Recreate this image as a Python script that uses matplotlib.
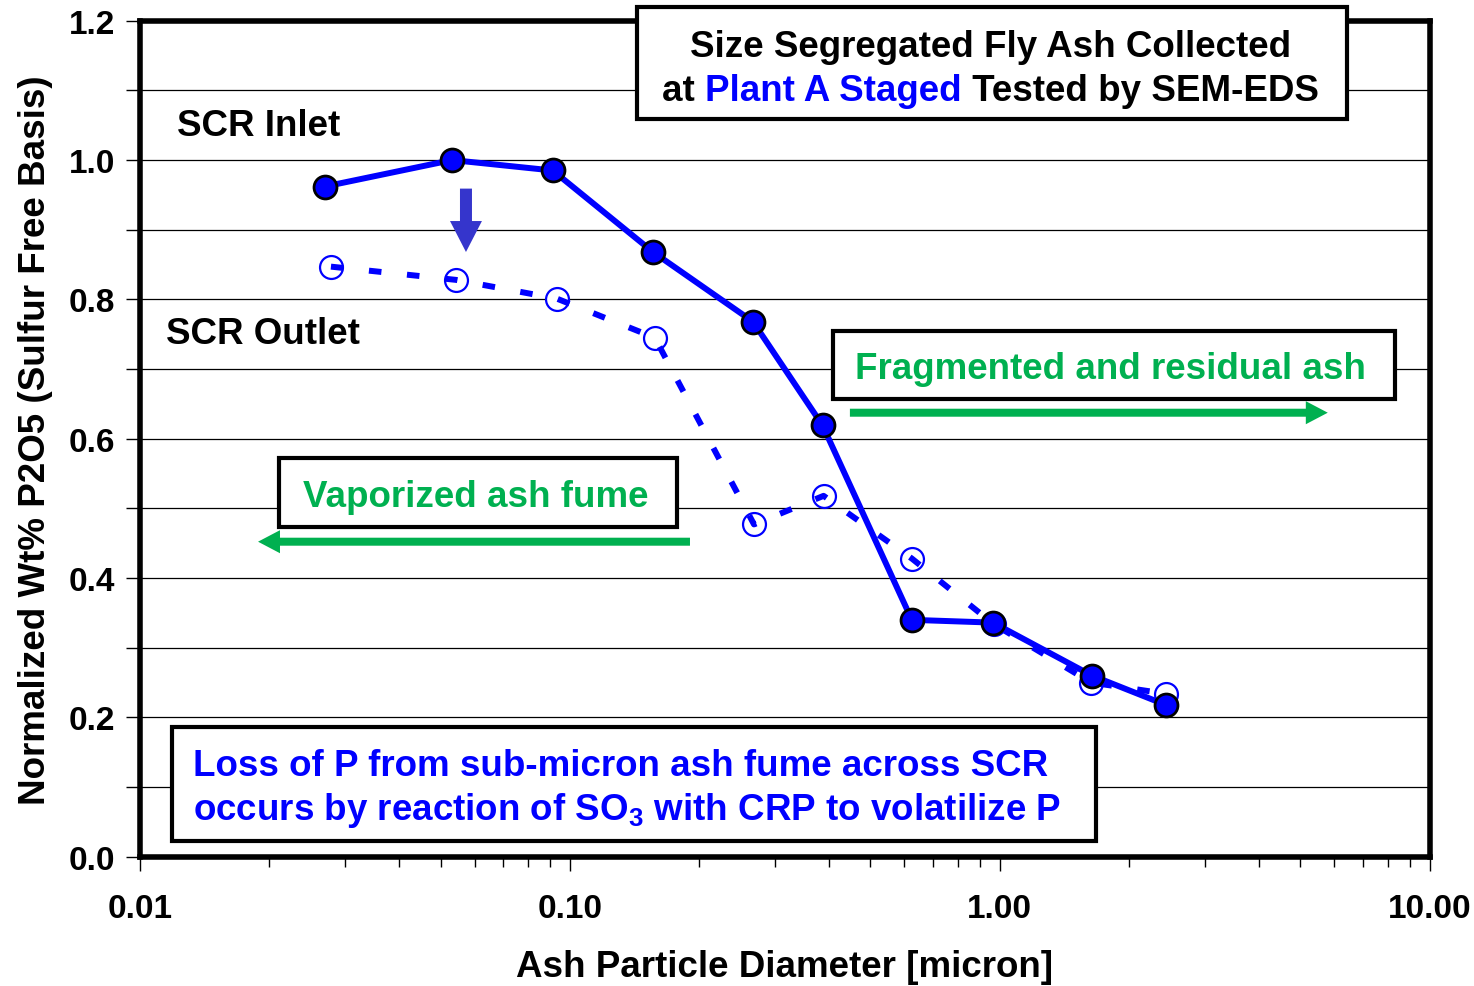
import numpy as np
import matplotlib
matplotlib.use("Agg")
import matplotlib.pyplot as plt
from matplotlib.patches import Rectangle
from matplotlib.ticker import FixedLocator, NullFormatter, LogLocator
from matplotlib.offsetbox import TextArea, HPacker, AnnotationBbox

plt.rcParams['font.family'] = ['Liberation Sans', 'DejaVu Sans']
plt.rcParams['font.weight'] = 'bold'
plt.rcParams['mathtext.fontset'] = 'custom'
plt.rcParams['mathtext.bf'] = 'Liberation Sans:bold'
plt.rcParams['mathtext.rm'] = 'Liberation Sans:bold'

# data
inlet_d = [0.0269, 0.0532, 0.0912, 0.156, 0.2665, 0.387, 0.624, 0.964, 1.637, 2.43]
inlet_p = [0.962, 1.000, 0.985, 0.868, 0.768, 0.619, 0.340, 0.336, 0.260, 0.218]
outlet_d = [0.0278, 0.0543, 0.0933, 0.1575, 0.268, 0.389, 0.624, 0.967, 1.63, 2.43]
outlet_p = [0.847, 0.828, 0.801, 0.745, 0.477, 0.518, 0.428, 0.334, 0.250, 0.234]
x_ticks = [0.01, 0.1, 1.0, 10.0]
x_tick_labels = ['0.01', '0.10', '1.00', '10.00']
y_ticks = [0.0, 0.2, 0.4, 0.6, 0.8, 1.0, 1.2]

blue = '#0000FF'
green = '#00B050'
fs = 26.5
dy = -0.005  # small downward nudge for centred texts

fig = plt.figure(figsize=(14.74, 9.87), dpi=100)
ax = fig.add_axes([0.095, 0.131, 0.875, 0.847])
ax.set_xscale('log')
ax.set_xlim(0.01, 10)
ax.set_ylim(0, 1.2)

# grid every 0.1
for g in np.arange(0.1, 1.2, 0.1):
    ax.axhline(g, color='black', lw=0.9, zorder=1)

# outlet: open circles, dashed line drawn over them
ax.plot(outlet_d, outlet_p, ls='none', marker='o', ms=16.5, mfc='white', mec=blue, mew=1.6, zorder=3)
ax.plot(outlet_d, outlet_p, color=blue, lw=4.3, ls=(0, (2.1, 4.3)), zorder=4)
# inlet: filled circles
ax.plot(inlet_d, inlet_p, color=blue, lw=4.3, marker='o', ms=16.5, mfc=blue, mec='black', mew=2, zorder=5)

# axes styling
for s in ax.spines.values():
    s.set_linewidth(4)
ax.set_yticks(y_ticks)
ax.set_yticklabels(['%.1f' % v for v in y_ticks])
ax.yaxis.set_minor_locator(FixedLocator(np.arange(0.1, 1.2, 0.2)))
ax.set_xticks(x_ticks)
ax.set_xticklabels(x_tick_labels)
ax.xaxis.set_minor_locator(LogLocator(base=10, subs=np.arange(2, 10)))
ax.xaxis.set_minor_formatter(NullFormatter())
ax.tick_params(axis='both', which='major', direction='out', length=10, width=1, labelsize=24, pad=8)
ax.tick_params(axis='both', which='minor', direction='out', length=7, width=1)
ax.tick_params(axis='x', which='major', pad=16)
ax.tick_params(axis='y', which='minor', length=10)

ax.set_xlabel('Ash Particle Diameter [micron]', fontsize=fs, fontweight='bold', labelpad=18)
ax.set_ylabel('Normalized Wt% P2O5 (Sulfur Free Basis)', fontsize=fs, fontweight='bold', labelpad=11)

# series labels
ax.text(0.0287, 0.8792 + dy, 'SCR Inlet', transform=ax.transAxes, fontsize=fs, ha='left', va='center', zorder=6)
ax.text(0.0202, 0.6304 + dy, 'SCR Outlet', transform=ax.transAxes, fontsize=fs, ha='left', va='center', zorder=6)

# boxes (axes fraction)
def frame(x0, y0, x1, y1):
    ax.add_patch(Rectangle((x0, y0), x1 - x0, y1 - y0, transform=ax.transAxes, fc='white',
                           ec='black', lw=3, clip_on=False, zorder=8))

frame(0.3853, 0.8828, 0.9357, 1.0167)
frame(0.5372, 0.5478, 0.9729, 0.6292)
frame(0.1078, 0.3947, 0.4163, 0.4773)
frame(0.0248, 0.0191, 0.7411, 0.1555)

# title text with blue words
ax.text(0.6593, 0.9737 + dy, 'Size Segregated Fly Ash Collected', transform=ax.transAxes, fontsize=fs,
        ha='center', va='center', zorder=9)
parts = [TextArea('at ', textprops=dict(fontsize=fs, fontweight='bold', color='black')),
         TextArea('Plant A Staged', textprops=dict(fontsize=fs, fontweight='bold', color=blue)),
         TextArea(' Tested by SEM-EDS', textprops=dict(fontsize=fs, fontweight='bold', color='black'))]
line2 = HPacker(children=parts, align='baseline', pad=0, sep=0)
ab = AnnotationBbox(line2, (0.6593, 0.921 + dy), xycoords='axes fraction', frameon=False,
                    box_alignment=(0.5, 0.5), pad=0, annotation_clip=False, zorder=9)
ax.add_artist(ab)

ax.text(0.7523, 0.5885 + dy, 'Fragmented and residual ash', transform=ax.transAxes, fontsize=fs,
        color=green, ha='center', va='center', zorder=9)
ax.text(0.2605, 0.4354 + dy, 'Vaporized ash fume', transform=ax.transAxes, fontsize=fs,
        color=green, ha='center', va='center', zorder=9)
ax.text(0.0411, 0.1136 + dy, 'Loss of P from sub-micron ash fume across SCR', transform=ax.transAxes,
        fontsize=fs, color=blue, ha='left', va='center', zorder=9)
ax.text(0.0411, 0.061 + dy, r'occurs by reaction of SO$_\mathbf{3}$ with CRP to volatilize P',
        transform=ax.transAxes, fontsize=fs, color=blue, ha='left', va='center', zorder=9)

# green arrows
garrow = dict(arrowstyle='simple,head_length=1.58,head_width=1.66,tail_width=0.576',
              fc=green, ec='none', lw=0, shrinkA=0, shrinkB=0, mutation_scale=10)
ax.annotate('', xy=(0.9209, 0.5311), xytext=(0.5504, 0.5311), xycoords='axes fraction',
            arrowprops=garrow, annotation_clip=False, zorder=6)
ax.annotate('', xy=(0.0915, 0.3768), xytext=(0.4264, 0.3768), xycoords='axes fraction',
            arrowprops=garrow, annotation_clip=False, zorder=6)

# blue down arrow
ax.annotate('', xy=(0.0573, 0.868), xytext=(0.0573, 0.959), xycoords='data',
            arrowprops=dict(arrowstyle='simple,head_length=2.23,head_width=2.3,tail_width=0.864',
                            fc='#3535CC', ec='none', lw=0, shrinkA=0, shrinkB=0, mutation_scale=10),
            zorder=6)

fig.savefig('out.png', dpi=100)
